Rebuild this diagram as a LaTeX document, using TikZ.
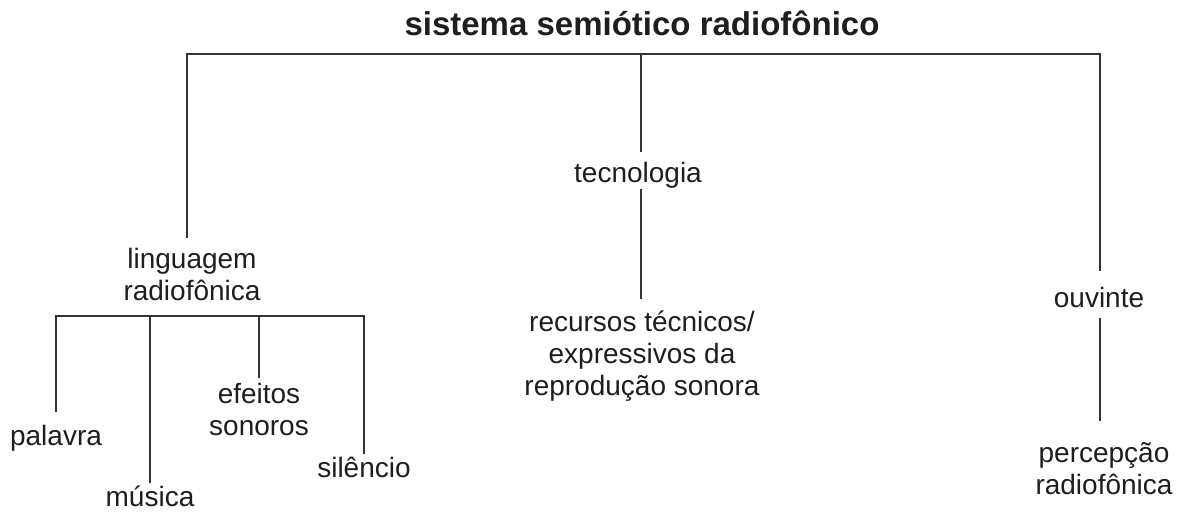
\documentclass[tikz,border=0pt]{standalone}
\usepackage{fontspec}
\setmainfont{Liberation Sans}
\definecolor{inkline}{HTML}{333333}
\definecolor{inktext}{HTML}{1E1E1E}
\begin{document}
\begin{tikzpicture}[x=0.5pt,y=-0.5pt,
  leaf/.style={text=inktext, inner sep=0pt, anchor=base, align=center, font=\fontsize{14}{16}\selectfont},
  branch/.style={draw=inkline, line width=1.4pt}]
\useasboundingbox (0,0) rectangle (1178,511);
\node[leaf, font=\fontsize{16.5}{20}\selectfont\bfseries] (sistema) at (642,35) {sistema semiótico radiofônico};
% junctions of the two bars
\coordinate (barL) at (187,54);
\coordinate (barM) at (641,54);
\coordinate (barR) at (1100,54);
\coordinate (subL) at (56,316);
\coordinate (subR) at (364,316);
% first level (base = last line)
\node[leaf] (linguagem) at (192,300) {linguagem\\radiofônica};
\node[leaf] (tecnologia) at (638,182) {tecnologia};
\node[leaf] (recursos) at (642,395) {recursos técnicos/\\expressivos da\\reprodução sonora};
\node[leaf] (ouvinte) at (1099,307) {ouvinte};
\node[leaf] (percepcao) at (1104,494) {percepção\\radiofônica};
% second level
\node[leaf] (palavra) at (56,445) {palavra};
\node[leaf] (musica) at (150,506) {música};
\node[leaf] (efeitos) at (259,435) {efeitos\\sonoros};
\node[leaf] (silencio) at (364,477) {silêncio};
% connectors
\draw[branch, shorten <=4.6pt, shorten >=7.7pt] (linguagem.north -| barL) -- (barL) -- (barR) -- (ouvinte.north -| barR);
\draw[branch, shorten >=4.6pt] (barM) -- (tecnologia.north -| barM);
\draw[branch, shorten <=0.3pt, shorten >=5.5pt] (tecnologia.south -| barM) -- (recursos.north -| barM);
\draw[branch, shorten <=5pt, shorten >=10.2pt] (ouvinte.south -| barR) -- (percepcao.north -| barR);
\draw[branch, shorten <=6.2pt, shorten >=1.2pt] (palavra.north) -- (subL) -- (subR) -- (silencio.north);
\foreach \leafname/\gap in {musica/1.2pt, efeitos/2pt}
  \draw[branch, shorten >=\gap] (\leafname.north |- subL) -- (\leafname.north);
\end{tikzpicture}
\end{document}
